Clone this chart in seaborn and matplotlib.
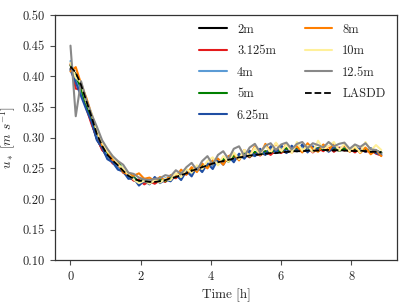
import numpy as np
import pandas as pd
import matplotlib
matplotlib.use('Agg')
import matplotlib.pyplot as plt
import seaborn as sns

time_h = [0.00, 0.15, 0.30, 0.45, 0.60, 0.75, 0.90, 1.05, 1.20, 1.35,
          1.50, 1.65, 1.80, 1.95, 2.10, 2.25, 2.40, 2.55, 2.70, 2.85,
          3.00, 3.15, 3.30, 3.45, 3.60, 3.75, 3.90, 4.05, 4.20, 4.35,
          4.50, 4.65, 4.80, 4.95, 5.10, 5.25, 5.40, 5.55, 5.70, 5.85,
          6.00, 6.15, 6.30, 6.45, 6.60, 6.75, 6.90, 7.05, 7.20, 7.35,
          7.50, 7.65, 7.80, 7.95, 8.10, 8.25, 8.40, 8.55, 8.70, 8.85]

u_2m = [0.412, 0.404, 0.380, 0.352, 0.325, 0.298, 0.282, 0.268, 0.260, 0.252,
        0.244, 0.236, 0.231, 0.228, 0.229, 0.226, 0.229, 0.228, 0.232, 0.233,
        0.238, 0.239, 0.244, 0.245, 0.251, 0.252, 0.257, 0.258, 0.262, 0.262,
        0.266, 0.266, 0.269, 0.269, 0.272, 0.271, 0.274, 0.273, 0.276, 0.275,
        0.278, 0.276, 0.279, 0.278, 0.280, 0.278, 0.281, 0.279, 0.281, 0.279,
        0.281, 0.279, 0.281, 0.278, 0.280, 0.278, 0.279, 0.277, 0.278, 0.276]

u_3125m = [0.420, 0.380, 0.378, 0.348, 0.322, 0.300, 0.280, 0.272, 0.258, 0.256,
           0.243, 0.239, 0.230, 0.232, 0.224, 0.229, 0.225, 0.231, 0.228, 0.236,
           0.234, 0.242, 0.240, 0.248, 0.247, 0.255, 0.252, 0.261, 0.258, 0.265,
           0.262, 0.270, 0.266, 0.273, 0.268, 0.276, 0.271, 0.278, 0.272, 0.280,
           0.275, 0.282, 0.276, 0.283, 0.277, 0.285, 0.276, 0.283, 0.278, 0.286,
           0.277, 0.284, 0.279, 0.282, 0.276, 0.283, 0.277, 0.280, 0.274, 0.271]

u_4m = [0.425, 0.395, 0.372, 0.355, 0.330, 0.302, 0.290, 0.268, 0.265, 0.250,
        0.250, 0.236, 0.235, 0.227, 0.231, 0.226, 0.232, 0.228, 0.234, 0.230,
        0.240, 0.236, 0.245, 0.242, 0.251, 0.247, 0.258, 0.254, 0.264, 0.259,
        0.268, 0.263, 0.272, 0.266, 0.276, 0.270, 0.279, 0.273, 0.282, 0.275,
        0.284, 0.277, 0.285, 0.278, 0.286, 0.279, 0.284, 0.281, 0.287, 0.278,
        0.285, 0.280, 0.283, 0.281, 0.286, 0.278, 0.282, 0.279, 0.276, 0.272]

u_5m = [0.418, 0.400, 0.382, 0.350, 0.332, 0.310, 0.292, 0.276, 0.266, 0.260,
        0.248, 0.242, 0.236, 0.228, 0.233, 0.227, 0.230, 0.231, 0.229, 0.235,
        0.236, 0.243, 0.241, 0.250, 0.246, 0.256, 0.252, 0.262, 0.257, 0.266,
        0.261, 0.271, 0.265, 0.274, 0.269, 0.277, 0.272, 0.278, 0.276, 0.281,
        0.277, 0.283, 0.278, 0.282, 0.280, 0.284, 0.278, 0.283, 0.281, 0.279,
        0.284, 0.279, 0.282, 0.280, 0.283, 0.277, 0.281, 0.278, 0.279, 0.275]

u_625m = [0.410, 0.390, 0.368, 0.346, 0.326, 0.296, 0.284, 0.265, 0.260, 0.248,
          0.245, 0.233, 0.234, 0.222, 0.230, 0.224, 0.236, 0.226, 0.232, 0.229,
          0.240, 0.231, 0.246, 0.237, 0.253, 0.244, 0.258, 0.249, 0.265, 0.256,
          0.270, 0.260, 0.274, 0.266, 0.279, 0.270, 0.282, 0.272, 0.286, 0.276,
          0.288, 0.275, 0.287, 0.278, 0.289, 0.276, 0.286, 0.280, 0.288, 0.277,
          0.285, 0.282, 0.287, 0.278, 0.284, 0.281, 0.277, 0.283, 0.275, 0.272]

u_8m = [0.408, 0.415, 0.388, 0.365, 0.338, 0.312, 0.288, 0.278, 0.264, 0.258,
        0.244, 0.240, 0.238, 0.242, 0.233, 0.235, 0.229, 0.236, 0.230, 0.239,
        0.236, 0.248, 0.240, 0.252, 0.244, 0.258, 0.250, 0.263, 0.266, 0.256,
        0.270, 0.274, 0.263, 0.280, 0.270, 0.286, 0.272, 0.290, 0.276, 0.291,
        0.278, 0.290, 0.280, 0.286, 0.276, 0.291, 0.282, 0.277, 0.289, 0.279,
        0.291, 0.280, 0.288, 0.277, 0.285, 0.275, 0.284, 0.273, 0.280, 0.270]

u_10m = [0.422, 0.398, 0.390, 0.358, 0.340, 0.312, 0.292, 0.278, 0.270, 0.256,
         0.250, 0.240, 0.232, 0.226, 0.230, 0.225, 0.231, 0.227, 0.233, 0.231,
         0.242, 0.236, 0.249, 0.243, 0.255, 0.249, 0.262, 0.268, 0.255, 0.270,
         0.261, 0.276, 0.265, 0.280, 0.270, 0.284, 0.273, 0.287, 0.276, 0.292,
         0.278, 0.289, 0.275, 0.293, 0.279, 0.287, 0.277, 0.295, 0.281, 0.286,
         0.293, 0.279, 0.290, 0.278, 0.286, 0.276, 0.293, 0.279, 0.288, 0.280]

u_125m = [0.450, 0.335, 0.392, 0.362, 0.338, 0.318, 0.296, 0.282, 0.270, 0.262,
          0.256, 0.243, 0.241, 0.235, 0.232, 0.231, 0.233, 0.234, 0.239, 0.237,
          0.247, 0.241, 0.252, 0.259, 0.247, 0.262, 0.270, 0.256, 0.272, 0.278,
          0.265, 0.282, 0.286, 0.270, 0.284, 0.290, 0.276, 0.287, 0.291, 0.280,
          0.289, 0.292, 0.281, 0.290, 0.293, 0.283, 0.291, 0.288, 0.284, 0.293,
          0.286, 0.290, 0.292, 0.282, 0.289, 0.285, 0.291, 0.281, 0.280, 0.274]

u_lasdd = [0.416, 0.406, 0.386, 0.360, 0.334, 0.306, 0.287, 0.272, 0.263, 0.255,
           0.246, 0.238, 0.233, 0.230, 0.229, 0.228, 0.228, 0.229, 0.231, 0.234,
           0.236, 0.239, 0.242, 0.246, 0.249, 0.252, 0.255, 0.258, 0.260, 0.262,
           0.264, 0.266, 0.268, 0.269, 0.271, 0.272, 0.273, 0.274, 0.275, 0.275,
           0.276, 0.277, 0.278, 0.278, 0.278, 0.279, 0.279, 0.279, 0.280, 0.280,
           0.279, 0.280, 0.279, 0.279, 0.278, 0.279, 0.278, 0.277, 0.277, 0.276]

labels = ['2m', '3.125m', '4m', '5m', '6.25m', '8m', '10m', '12.5m']
series = [u_2m, u_3125m, u_4m, u_5m, u_625m, u_8m, u_10m, u_125m]
colors = ['black', '#e41a1c', '#5b9bd5', '#008000', '#1f4ea3',
          '#ff7f00', '#fff09a', '#888888']

sns.set_style('ticks')
plt.rcParams['font.family'] = 'serif'
plt.rcParams['font.serif'] = ['cmr10']
plt.rcParams['mathtext.fontset'] = 'cm'
plt.rcParams['axes.formatter.use_mathtext'] = True
plt.rcParams['axes.unicode_minus'] = False

fig = plt.figure(figsize=(4.07, 3.05), dpi=100)
ax = fig.add_axes([0.135, 0.146, 0.84, 0.805])

for lab, vals, col in zip(labels, series, colors):
    sns.lineplot(x=time_h, y=vals, color=col, lw=1.5, label=lab, ax=ax)
sns.lineplot(x=time_h, y=u_lasdd, color='black', lw=1.3, label='LASDD', ax=ax)
ax.lines[-1].set_linestyle('--')

ax.set_ylim(0.10, 0.50)
ax.set_yticks([0.10, 0.15, 0.20, 0.25, 0.30, 0.35, 0.40, 0.45, 0.50])
ax.set_yticklabels([f'{v:.2f}' for v in ax.get_yticks()])
ax.set_xticks([0, 2, 4, 6, 8])
ax.tick_params(labelsize=9, color='.3', length=3.5, width=0.8)
for sp in ax.spines.values():
    sp.set_color('.2')
    sp.set_linewidth(0.9)
ax.set_xlabel('Time [h]', fontsize=9.5)
ax.set_ylabel(r'$u_*\ [m\ s^{-1}]$', fontsize=9.5)

ax.legend(ncol=2, frameon=False, fontsize=9, loc='upper right',
          bbox_to_anchor=(1.0, 1.01), handlelength=2.2, labelspacing=0.75,
          columnspacing=2.3, handletextpad=0.8)

fig.savefig('out.png', dpi=100)
